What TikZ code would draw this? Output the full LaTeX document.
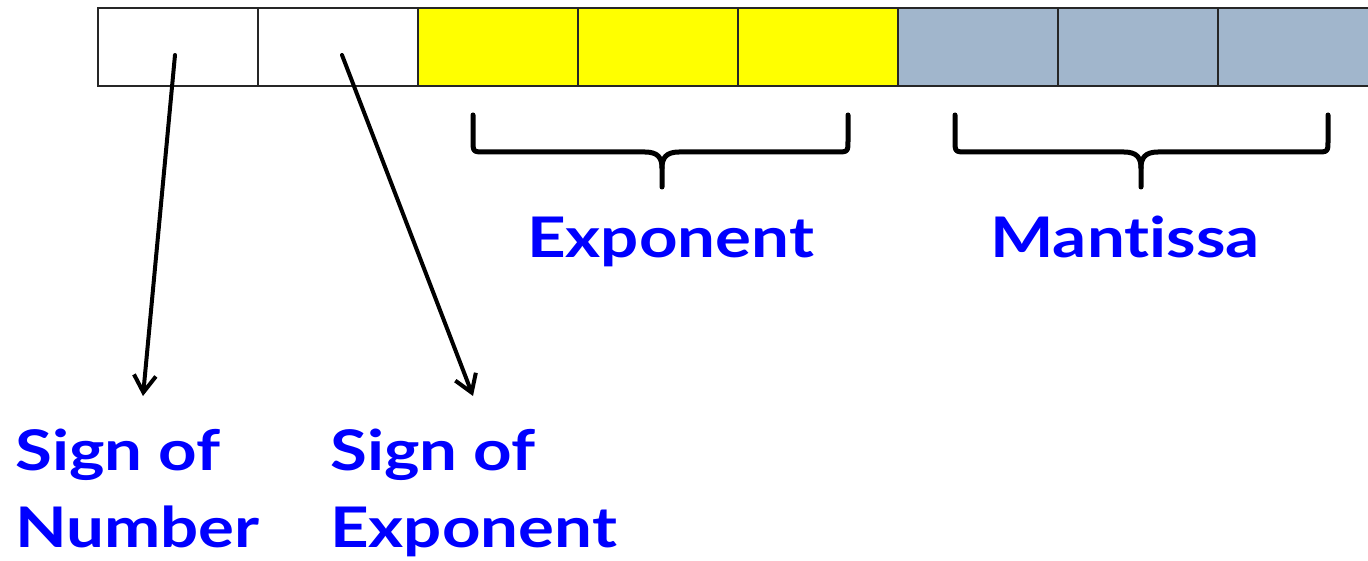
\documentclass[tikz,border=0pt]{standalone}
\usepackage{fontspec}
\setmainfont{Lato}[Ligatures=NoCommon, FakeStretch=1.2]
\usetikzlibrary{arrows.meta}
\definecolor{cellblue}{RGB}{161,182,204}
\definecolor{cellyellow}{RGB}{255,255,0}
\definecolor{labelblue}{RGB}{0,0,255}
\tikzset{
  cell/.style={draw=black!85, line width=2.6pt, minimum width=160pt, minimum height=78pt, inner sep=0pt, outer sep=0pt},
  lbl/.style={text=labelblue, font=\fontsize{56pt}{77pt}\selectfont\bfseries, inner sep=0pt, anchor=base west},
  brace/.style={line width=5pt, line cap=round, line join=round},
  pointer/.style={line width=4pt, line cap=round, -{Straight Barb[length=17pt, width=22pt, line width=4pt]}}
}
\begin{document}
\begin{tikzpicture}[x=1pt,y=-1pt]
\useasboundingbox (0,0) rectangle (1368,561);
\clip (0,0) rectangle (1368,561);
% cells
\node[cell, fill=white]      (c1) at (178,47) {};
\node[cell, fill=white]      (c2) at (338,47) {};
\node[cell, fill=cellyellow] (c3) at (498,47) {};
\node[cell, fill=cellyellow] (c4) at (658,47) {};
\node[cell, fill=cellyellow] (c5) at (818,47) {};
\node[cell, fill=cellblue]   (c6) at (978,47) {};
\node[cell, fill=cellblue]   (c7) at (1138,47) {};
\node[cell, fill=cellblue]   (c8) at (1298,47) {};
% braces
\draw[brace] (473,115) -- (473,140) .. controls (473,152) .. (485,152) -- (645,152)
  .. controls (658,152) and (662,158) .. (662,168) -- (662,187);
\draw[brace] (848,115) -- (848,140) .. controls (848,152) .. (836,152) -- (679,152)
  .. controls (666,152) and (662,158) .. (662,168);
\draw[brace] (955,115) -- (955,140) .. controls (955,152) .. (967,152) -- (1124,152)
  .. controls (1137,152) and (1141,158) .. (1141,168) -- (1141,187);
\draw[brace] (1328,115) -- (1328,140) .. controls (1328,152) .. (1316,152) -- (1158,152)
  .. controls (1145,152) and (1141,158) .. (1141,168);
% labels
\node[lbl] (exp) at (527,258) {Exponent};
\node[lbl] (man) at (990,258) {Mantissa};
\node[lbl] (sn1) at (15,470) {Sign of};
\node[lbl] (sn2) at (15,547) {Number};
\node[lbl] (se1) at (330,470) {Sign of};
\node[lbl] (se2) at (330,547) {Exponent};
% pointers
\coordinate (p1s) at (175,55);
\coordinate (p1e) at (143,396);
\coordinate (p2s) at (342,55);
\coordinate (p2e) at (473,396);
\draw[pointer] (p1s) -- (p1e);
\draw[pointer] (p2s) -- (p2e);
\end{tikzpicture}
\end{document}
